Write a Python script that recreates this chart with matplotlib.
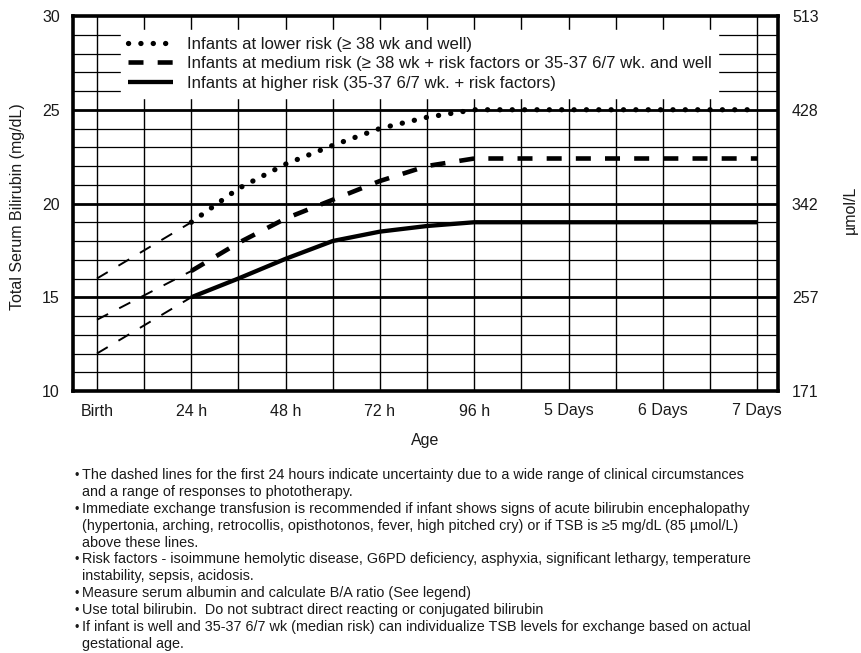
import matplotlib
matplotlib.use("Agg")
import matplotlib.pyplot as plt

plt.rcParams['font.family'] = ['Liberation Sans', 'DejaVu Sans']
plt.rcParams['lines.scale_dashes'] = False

# ---------------- data ----------------
x_tick_hours = [0, 24, 48, 72, 96, 120, 144, 168]
x_tick_labels = ["Birth", "24 h", "48 h", "72 h", "96 h", "5 Days", "6 Days", "7 Days"]
y_ticks_left = [10, 15, 20, 25, 30]
y_ticks_right_labels = ["171", "257", "342", "428", "513"]

hours_early = [0, 24]
lower_early = [16.0, 19.0]
medium_early = [13.8, 16.4]
higher_early = [12.0, 15.0]

hours_main = [24, 36, 48, 60, 72, 84, 96, 168]
lower_main = [19.0, 20.8, 22.1, 23.1, 24.0, 24.6, 25.0, 25.0]
medium_main = [16.4, 17.9, 19.2, 20.2, 21.2, 22.0, 22.4, 22.4]
higher_main = [15.0, 16.0, 17.05, 18.0, 18.5, 18.8, 19.0, 19.0]

legend_labels = [
    "Infants at lower risk (\u2265 38 wk and well)",
    "Infants at medium risk (\u2265 38 wk + risk factors or 35-37 6/7 wk. and well",
    "Infants at higher risk (35-37 6/7 wk. + risk factors)",
]

notes = [
    (True, "The dashed lines for the first 24 hours indicate uncertainty due to a wide range of clinical circumstances"),
    (False, "and a range of responses to phototherapy."),
    (True, "Immediate exchange transfusion is recommended if infant shows signs of acute bilirubin encephalopathy"),
    (False, "(hypertonia, arching, retrocollis, opisthotonos, fever, high pitched cry) or if TSB is \u22655 mg/dL (85 \u00b5mol/L)"),
    (False, "above these lines."),
    (True, "Risk factors - isoimmune hemolytic disease, G6PD deficiency, asphyxia, significant lethargy, temperature"),
    (False, "instability, sepsis, acidosis."),
    (True, "Measure serum albumin and calculate B/A ratio (See legend)"),
    (True, "Use total bilirubin.  Do not subtract direct reacting or conjugated bilirubin"),
    (True, "If infant is well and 35-37 6/7 wk (median risk) can individualize TSB levels for exchange based on actual"),
    (False, "gestational age."),
]

# ---------------- figure ----------------
W, H = 861, 653
fig = plt.figure(figsize=(W / 100, H / 100), dpi=100)
L, R, T, B = 73, 778, 16, 391
ax = fig.add_axes([L / W, 1 - B / H, (R - L) / W, (B - T) / H])
ax.set_xlim(-6.1, 173.3)
ax.set_ylim(10, 30)

# grid
for h in range(0, 169, 12):
    ax.axvline(h, color='black', lw=1.0, zorder=1)
for v in range(11, 30):
    ax.axhline(v, color='black', lw=2.0 if v % 5 == 0 else 0.9, zorder=1)

txt = '#1a1a1a'
# early uncertain segments
for ys in (lower_early, medium_early, higher_early):
    ax.plot(hours_early, ys, color='black', lw=1.4, linestyle=(0, (9, 9)), zorder=3)

l1, = ax.plot(hours_main, lower_main, color='black', lw=3.8, linestyle=(0, (0.1, 8.8)),
              dash_capstyle='round', zorder=3)
l2, = ax.plot(hours_main, medium_main, color='black', lw=3.3, linestyle=(0, (10.8, 10.2)),
              dash_capstyle='butt', zorder=3)
l3, = ax.plot(hours_main, higher_main, color='black', lw=3.1, solid_capstyle='butt', zorder=3)

for s in ax.spines.values():
    s.set_linewidth(2.6)
    s.set_zorder(6)

ax.set_xticks(x_tick_hours)
ax.set_xticklabels(x_tick_labels)
ax.set_yticks(y_ticks_left)
ax.tick_params(axis='x', length=0, pad=9, labelsize=11.5, labelcolor=txt)
ax.tick_params(axis='y', length=0, pad=9.5, labelsize=11.5, labelcolor=txt)

ax2 = ax.twinx()
ax2.set_ylim(10, 30)
ax2.set_yticks(y_ticks_left)
ax2.set_yticklabels(y_ticks_right_labels)
ax2.tick_params(axis='y', length=0, pad=10, labelsize=11.5, labelcolor=txt)
for s in ax2.spines.values():
    s.set_visible(False)

leg = ax.legend([l1, l2, l3], legend_labels, loc='upper left',
                bbox_to_anchor=(121 / W, 1 - 30 / H), bbox_transform=fig.transFigure,
                fontsize=12.1, frameon=True, fancybox=False, framealpha=1,
                facecolor='white', edgecolor='white', handlelength=2.7,
                handletextpad=0.8, labelspacing=0.27, borderpad=0.4, borderaxespad=0)
for t in leg.get_texts():
    t.set_color(txt)
leg.set_zorder(5)

fig.text(18 / W, 1 - 207 / H, "Total Serum Bilirubin (mg/dL)", rotation=90,
         ha='center', va='center', fontsize=11.5, color=txt)
fig.text(850 / W, 1 - 210 / H, "\u00b5mol/L", rotation=90,
         ha='center', va='center', fontsize=11.5, color=txt)
fig.text(425 / W, 1 - 440 / H, "Age", ha='center', va='center', fontsize=11.5, color=txt)

y0, dy = 479, 16.9
for i, (bullet, line) in enumerate(notes):
    y = 1 - (y0 + i * dy) / H
    if bullet:
        fig.text(74.5 / W, y, "\u2022", ha='left', va='baseline', fontsize=9, color=txt)
    fig.text(82.5 / W, y, line, ha='left', va='baseline', fontsize=10.35, color=txt)

fig.savefig("out.png", dpi=100)
